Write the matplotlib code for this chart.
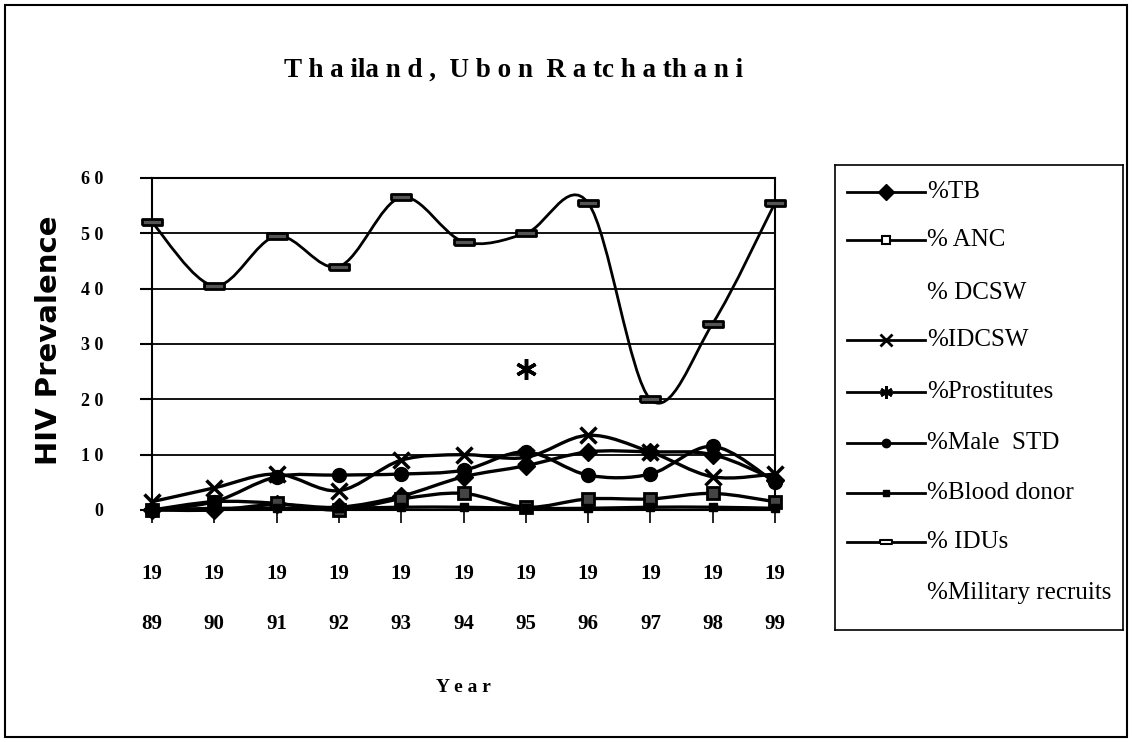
import numpy as np
import matplotlib
matplotlib.use("Agg")
import matplotlib.pyplot as plt
from matplotlib.path import Path
from matplotlib.patches import PathPatch, Rectangle

# HIV prevalence (%) by sentinel group, Ubon Ratchathani
years = [1989, 1990, 1991, 1992, 1993, 1994, 1995, 1996, 1997, 1998, 1999]
tb = [0, 0, 1, 0.5, 2.5, 6, 8, 10.5, 10.5, 10, 5.5]
anc = [0, 1.5, 1.2, 0, 2, 3, 0.5, 2, 2, 3, 1.5]
idcsw = [1.5, 4, 6.5, 3.5, 9, 10, 9.5, 13.5, 10.5, 6, 6.5]
prostitutes_year = [1995]
prostitutes = [25.5]
male_std = [0, 1.5, 6, 6.3, 6.5, 7.2, 10.5, 6.3, 6.5, 11.5, 5]
blood_donor = [0, 0.3, 0.3, 0.3, 0.5, 0.5, 0.3, 0.3, 0.5, 0.5, 0.3]
idus = [52, 40.5, 49.5, 44, 56.5, 48.5, 50, 55.5, 20, 33.7, 55.5]

legend_labels = ["%TB", "% ANC", "% DCSW", "%IDCSW", "%Prostitutes",
                 "%Male  STD", "%Blood donor", "% IDUs", "%Military recruits"]

W, H = 1132, 742
SERIF = "Liberation Serif"

# wide flat rectangle marker (Excel style)
rect_marker = [(-1.6, -0.55), (1.6, -0.55), (1.6, 0.55), (-1.6, 0.55), (-1.6, -0.55)]


def smooth_line(ax, x, y, lw=2.2):
    """Excel-like smoothed line: Catmull-Rom as cubic Bezier segments."""
    n = len(x)
    verts = [(x[0], y[0])]
    codes = [Path.MOVETO]
    for i in range(n - 1):
        x0, y0 = (x[i - 1], y[i - 1]) if i > 0 else (x[i], y[i])
        x3, y3 = (x[i + 2], y[i + 2]) if i + 2 < n else (x[i + 1], y[i + 1])
        c1 = (x[i] + (x[i + 1] - x0) / 6, y[i] + (y[i + 1] - y0) / 6)
        c2 = (x[i + 1] - (x3 - x[i]) / 6, y[i + 1] - (y3 - y[i]) / 6)
        verts += [c1, c2, (x[i + 1], y[i + 1])]
        codes += [Path.CURVE4] * 3
    ax.add_patch(PathPatch(Path(verts, codes), fill=False, ec="black", lw=lw,
                           clip_on=False, zorder=3))


fig = plt.figure(figsize=(W / 100, H / 100), dpi=100)
ax = fig.add_axes([152 / W, 1 - 510 / H, 623 / W, 332 / H])

series = [
    (tb, dict(marker="D", ms=9, mfc="black", mec="black")),
    (anc, dict(marker="s", ms=8, mfc="#444444", mec="black", mew=2)),
    (idcsw, dict(marker="x", ms=12, mec="black", mew=2.5)),
    (male_std, dict(marker="o", ms=10, mfc="black", mec="black")),
    (blood_donor, dict(marker="s", ms=6, mfc="black", mec="black")),
    (idus, dict(marker=rect_marker, ms=14, mfc="#555555", mec="black", mew=2)),
]
for vals, style in series:
    smooth_line(ax, years, vals, lw=2.0 if vals is idus else 2.4)
    ax.plot(years, vals, ls="none", clip_on=False, zorder=4, **style)

ax.plot(prostitutes_year, prostitutes, ls="none", marker=(6, 2, 0), ms=15,
        mec="black", mew=2.5, zorder=4)

ax.set_xlim(1989, 1999)
ax.set_ylim(0, 60)
ax.set_yticks(range(0, 61, 10))
ax.set_yticklabels([" ".join(str(v)) for v in range(0, 61, 10)],
                   fontfamily=SERIF, fontweight="bold", fontsize=13)
ax.set_xticks(years)
ax.set_xticklabels([f"{str(y)[:2]}\n{str(y)[2:]}" for y in years],
                   fontfamily=SERIF, fontweight="bold", fontsize=15,
                   linespacing=3.0)
ax.tick_params(axis="y", direction="out", length=9, width=1.5, pad=26)
ax.tick_params(axis="x", direction="out", length=9, width=1.2, pad=30)
for s in ax.spines.values():
    s.set_linewidth(1.5)
    s.set_color("black")
for v in range(10, 60, 10):
    ax.axhline(v, color="black", lw=1.3, zorder=1)

fig.text(49 / W, 1 - 340 / H, "HIV Prevalence", rotation=90, ha="center",
         va="center", fontfamily="DejaVu Sans", fontweight="bold", fontsize=21)
fig.text(463 / W, 1 - 688 / H, "Y e a r", ha="center", va="center",
         fontfamily=SERIF, fontweight="bold", fontsize=14)
fig.text(514 / W, 1 - 70 / H, "T h a ila n d ,  U b o n  R a tc h a th a n i",
         ha="center", va="center", fontfamily=SERIF, fontweight="bold", fontsize=19.5)

# legend box drawn in pixel coordinates
lax = fig.add_axes([835 / W, 1 - 630 / H, 288 / W, 465 / H])
lax.set_xlim(835, 1123)
lax.set_ylim(630, 165)
lax.set_xticks([])
lax.set_yticks([])
for s in lax.spines.values():
    s.set_linewidth(1.2)
legend_y = [192, 240, 293, 340, 392, 443, 493, 542, 593]
legend_styles = [
    dict(marker="D", ms=8, mfc="black", mec="black"),
    dict(marker="s", ms=6, mfc="white", mec="black", mew=1.5),
    None,
    dict(marker="x", ms=9, mec="black", mew=2),
    dict(marker=(6, 2, 0), ms=9, mec="black", mew=2),
    dict(marker="o", ms=6, mfc="black", mec="black"),
    dict(marker="s", ms=5, mfc="black", mec="black"),
    dict(marker=rect_marker, ms=9, mfc="white", mec="black", mew=1.5),
    None,
]
for yy, lab, st in zip(legend_y, legend_labels, legend_styles):
    if st is not None:
        lax.plot([847, 925], [yy, yy], color="black", lw=2)
        lax.plot([886], [yy], ls="none", **st)
    lax.text(927, yy, lab, va="center", ha="left", fontfamily=SERIF, fontsize=18)

fig.patches.append(Rectangle((5 / W, 5 / H), 1 - 10 / W, 1 - 10 / H,
                             transform=fig.transFigure, fill=False, lw=1.5,
                             ec="black"))

fig.savefig("out.png", dpi=100)
